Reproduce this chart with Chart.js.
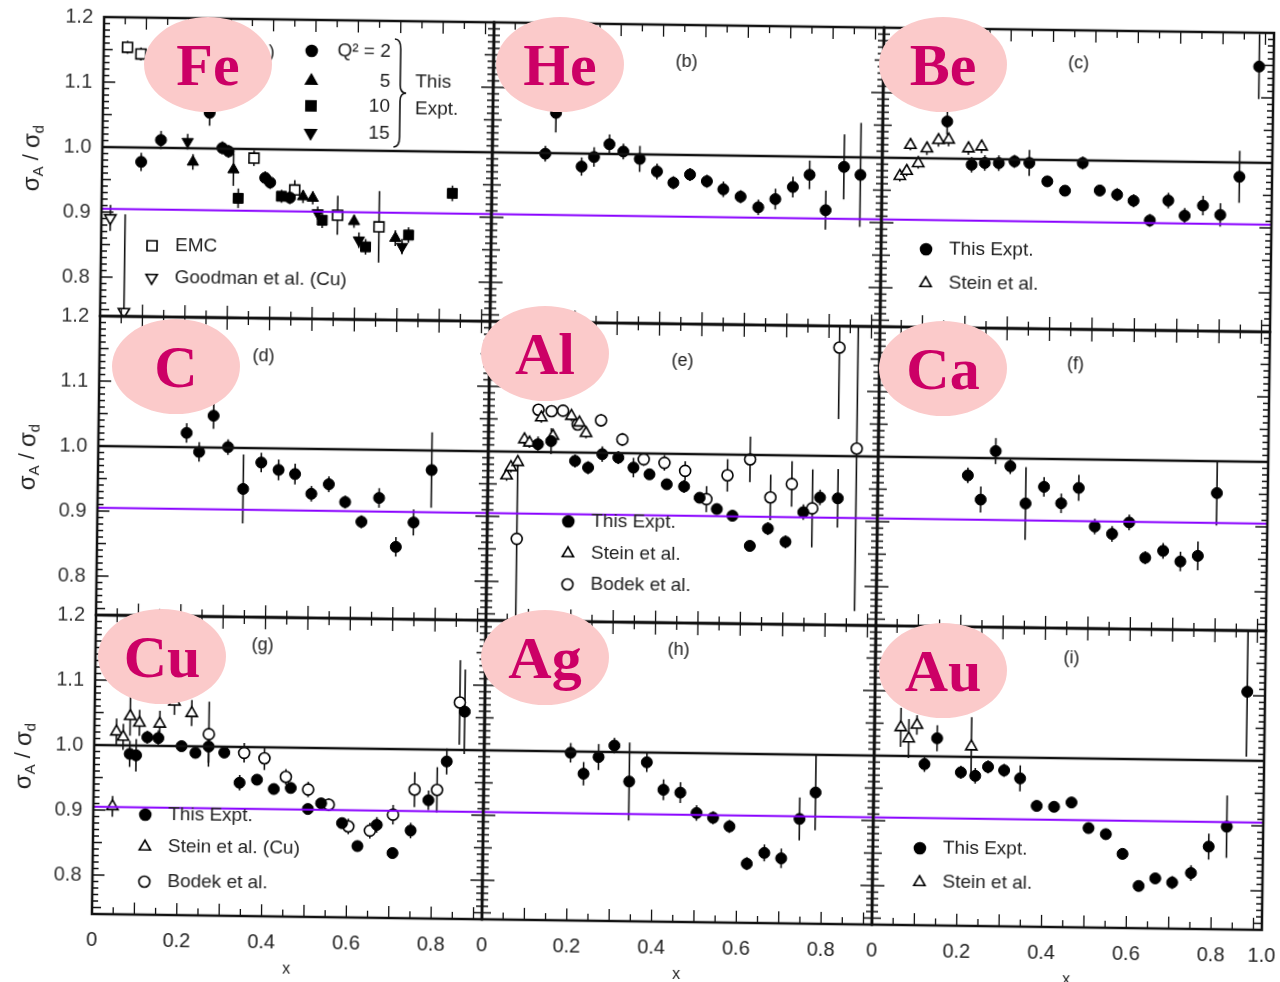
<!DOCTYPE html>
<html>
<head>
<meta charset="utf-8">
<title>EMC ratio sigma_A / sigma_d</title>
<script src="https://cdn.jsdelivr.net/npm/chart.js@4.4.0/dist/chart.umd.min.js"></script>
<style>
  html, body { margin: 0; padding: 0; background: #fff; }
  #page { position: relative; width: 1280px; height: 982px; overflow: hidden; }
  #fig { position: absolute; left: 0; top: 0; width: 1280px; height: 982px;
         transform: rotate(0.78deg); transform-origin: 685px 473px; }
  #fig canvas { position: absolute; }
  .tag { position: absolute; width: 128px; height: 95px; border-radius: 50%;
         background: #fbcaca; color: #cc0066; font: bold 60px 'Liberation Serif', 'Times New Roman', serif;
         display: flex; align-items: center; justify-content: center; line-height: 1; }
</style>
</head>
<body>
<div id="page">
  <div id="fig"></div>
  <div id="tags"></div>
</div>
<script>
/* ── data: [x, sigmaA/sigmaD, error] ───────────── */
var X_MAX = 0.92, Y_MIN = 0.74, Y_MAX = 1.2, PURPLE_Y = 0.905;
var yTicks = [0.8, 0.9, 1.0, 1.1, 1.2];
var yTickText = ['0.8', '0.9', '1.0', '1.1', '1.2'];
var xTicks = [0, 0.2, 0.4, 0.6, 0.8];
var xTickText = ['0', '0.2', '0.4', '0.6', '0.8'];
var xTicksRight = [0, 0.2, 0.4, 0.6, 0.8, 0.92];
var xTickTextRight = ['0', '0.2', '0.4', '0.6', '0.8', '1.0'];

// (a) Fe
var feQ2 = [[0.092,0.978,0.014],[0.138,1.012,0.014],[0.252,1.055,0.02],[0.283,1.001,0.01],[0.298,0.996,0.01],[0.385,0.956,0.01],[0.397,0.949,0.01],[0.444,0.926,0.01]];
var feQ5 = [[0.214,0.979,0.012],[0.31,0.968,0.025],[0.475,0.928,0.01],[0.498,0.926,0.01],[0.596,0.891,0.01],[0.694,0.866,0.012]];
var feQ10 = [[0.322,0.924,0.015],[0.424,0.928,0.01],[0.521,0.892,0.012],[0.624,0.852,0.012],[0.725,0.871,0.012],[0.827,0.936,0.012]];
var feQ15 = [[0.201,1.010,0.012],[0.51,0.903,0.01],[0.608,0.862,0.012],[0.71,0.853,0.012]];
var feEMC = [[0.056,1.154,0.01],[0.088,1.144,0.01],[0.358,0.986,0.012],[0.455,0.938,0.015],[0.557,0.900,0.03],[0.655,0.883,0.055]];
var feGoodman = [[0.021,0.891,0.02],[0.056,0.747,0.15]];
// (b) He
var heThis = [[0.125,0.999,0.012],[0.149,1.062,0.03],[0.211,0.980,0.014],[0.24,0.995,0.015],[0.276,1.015,0.015],[0.309,1.004,0.012],[0.348,0.993,0.02],[0.389,0.974,0.012],[0.428,0.957,0.01],[0.467,0.970,0.01],[0.507,0.960,0.01],[0.546,0.948,0.012],[0.587,0.937,0.01],[0.629,0.921,0.012],[0.669,0.934,0.016],[0.71,0.953,0.016],[0.749,0.972,0.022],[0.788,0.918,0.03],[0.83,0.985,0.05],[0.869,0.973,0.08]];
// (c) Be
var beThis = [[0.152,1.057,0.02],[0.211,0.991,0.012],[0.242,0.994,0.012],[0.275,0.994,0.012],[0.312,0.997,0.01],[0.347,0.995,0.02],[0.39,0.967,0.008],[0.432,0.953,0.008],[0.473,0.996,0.01],[0.514,0.954,0.008],[0.555,0.948,0.01],[0.594,0.939,0.01],[0.633,0.909,0.01],[0.676,0.940,0.012],[0.715,0.917,0.012],[0.758,0.933,0.015],[0.799,0.919,0.018],[0.843,0.978,0.04],[0.886,1.148,0.05]];
var beStein = [[0.042,0.972,0.008],[0.058,0.98,0.008],[0.066,1.02,0.008],[0.085,0.992,0.008],[0.105,1.015,0.01],[0.132,1.028,0.01],[0.156,1.029,0.01],[0.203,1.016,0.01],[0.234,1.019,0.01]];
// (d) C
var cThis = [[0.208,1.022,0.015],[0.238,0.993,0.015],[0.271,1.049,0.02],[0.306,1.001,0.012],[0.343,0.937,0.053],[0.385,0.978,0.015],[0.426,0.967,0.016],[0.465,0.961,0.016],[0.504,0.931,0.012],[0.545,0.946,0.012],[0.584,0.919,0.01],[0.623,0.889,0.01],[0.664,0.926,0.015],[0.705,0.851,0.015],[0.746,0.889,0.02],[0.787,0.970,0.058]];
// (e) Al
var alThis = [[0.117,1.012,0.012],[0.148,1.017,0.02],[0.205,0.987,0.01],[0.236,0.977,0.01],[0.269,0.998,0.012],[0.307,0.993,0.01],[0.343,0.978,0.015],[0.381,0.968,0.008],[0.422,0.953,0.008],[0.463,0.950,0.01],[0.5,0.933,0.008],[0.541,0.916,0.008],[0.578,0.906,0.008],[0.62,0.860,0.008],[0.662,0.887,0.01],[0.704,0.867,0.01],[0.745,0.913,0.012],[0.784,0.936,0.012],[0.826,0.935,0.045]];
var alStein = [[0.044,0.963,0.008],[0.054,0.976,0.008],[0.07,0.984,0.008],[0.085,1.019,0.008],[0.097,1.014,0.008],[0.124,1.053,0.008],[0.152,1.025,0.008],[0.195,1.056,0.008],[0.214,1.046,0.008],[0.23,1.03,0.008]];
var alBodek = [[0.07,0.866,0.125],[0.117,1.065,0.008],[0.148,1.063,0.008],[0.175,1.064,0.008],[0.21,1.043,0.008],[0.265,1.05,0.01],[0.316,1.021,0.01],[0.367,0.991,0.01],[0.416,0.986,0.012],[0.465,0.974,0.015],[0.516,0.931,0.02],[0.565,0.968,0.025],[0.618,0.993,0.035],[0.667,0.935,0.035],[0.717,0.956,0.035],[0.766,0.919,0.06],[0.825,1.167,0.11],[0.869,1.012,0.25]];
// (f) Ca
var caThis = [[0.212,0.973,0.012],[0.243,0.936,0.02],[0.277,1.011,0.02],[0.312,0.988,0.012],[0.349,0.931,0.056],[0.392,0.957,0.015],[0.433,0.932,0.015],[0.474,0.956,0.02],[0.513,0.897,0.012],[0.554,0.886,0.012],[0.594,0.904,0.012],[0.633,0.85,0.01],[0.675,0.861,0.012],[0.716,0.845,0.015],[0.757,0.854,0.022],[0.8,0.951,0.05]];
// (g) Cu
var cuThis = [[0.084,0.987,0.02],[0.099,0.985,0.025],[0.125,1.013,0.01],[0.151,1.012,0.012],[0.206,1.0,0.008],[0.239,0.99,0.008],[0.27,1.0,0.025],[0.307,0.991,0.008],[0.344,0.945,0.012],[0.385,0.95,0.008],[0.425,0.936,0.008],[0.465,0.938,0.008],[0.506,0.906,0.008],[0.537,0.915,0.008],[0.587,0.885,0.008],[0.624,0.85,0.008],[0.669,0.883,0.012],[0.707,0.84,0.008],[0.749,0.875,0.012],[0.79,0.922,0.015],[0.832,0.982,0.02],[0.873,1.059,0.065]];
var cuStein = [[0.045,0.906,0.016],[0.052,1.021,0.02],[0.068,1.013,0.02],[0.084,1.045,0.03],[0.106,1.035,0.02],[0.154,1.034,0.02],[0.188,1.068,0.02],[0.229,1.051,0.02]];
var cuBodek = [[0.27,1.019,0.05],[0.354,0.991,0.015],[0.402,0.983,0.018],[0.453,0.955,0.012],[0.506,0.936,0.012],[0.555,0.913,0.01],[0.602,0.880,0.012],[0.653,0.874,0.012],[0.707,0.899,0.015],[0.757,0.938,0.027],[0.81,0.938,0.035],[0.861,1.073,0.065]];
// (h) Ag
var agThis = [[0.204,0.998,0.015],[0.235,0.966,0.018],[0.27,0.992,0.02],[0.307,1.01,0.012],[0.343,0.955,0.06],[0.384,0.985,0.015],[0.424,0.943,0.016],[0.464,0.939,0.016],[0.503,0.908,0.012],[0.542,0.901,0.01],[0.581,0.888,0.01],[0.623,0.831,0.01],[0.664,0.848,0.013],[0.704,0.84,0.015],[0.746,0.901,0.033],[0.783,0.942,0.058]];
// (i) Au
var auThis = [[0.119,0.988,0.012],[0.148,1.028,0.02],[0.205,0.976,0.01],[0.239,0.971,0.012],[0.269,0.985,0.01],[0.307,0.98,0.01],[0.345,0.968,0.02],[0.385,0.926,0.008],[0.426,0.925,0.008],[0.467,0.932,0.008],[0.508,0.893,0.008],[0.549,0.884,0.008],[0.589,0.854,0.008],[0.628,0.805,0.008],[0.667,0.817,0.008],[0.707,0.811,0.01],[0.751,0.826,0.012],[0.792,0.867,0.02],[0.834,0.898,0.048],[0.878,1.106,0.1]];
var auStein = [[0.062,1.044,0.03],[0.081,1.027,0.03],[0.1,1.048,0.015],[0.229,1.016,0.045]];

(function () {
  'use strict';

  Chart.defaults.font.family = "'Liberation Sans', Arial, sans-serif";
  Chart.defaults.color = '#222';

  var COL_LEFT = [98, 488, 878], ROW_TOP = [25, 324, 623];
  var PW = 390, PH = 299;
  var AX_W = 90, AX_H = 66, PAD_T = 32, PAD_R = 40;

  var panels = [
    { name: 'Fe', tag: '(a)', col: 0, row: 0, tagPos: [160, 33], ell: [208, 64],
      series: [[feQ2, 'circle'], [feQ5, 'triangle'], [feQ10, 'rect'], [feQ15, 'triangleDown'],
               [feEMC, 'rect', true], [feGoodman, 'triangleDown', true]],
      legend: [['rect', true, 'EMC', 51, 228], ['triangleDown', true, 'Goodman et al. (Cu)', 51, 260]],
      q2Key: true },
    { name: 'He', tag: '(b)', col: 1, row: 0, tagPos: [193, 37], ell: [560, 64],
      series: [[heThis, 'circle']], legend: [] },
    { name: 'Be', tag: '(c)', col: 2, row: 0, tagPos: [195, 33], ell: [943, 64],
      series: [[beThis, 'circle'], [beStein, 'triangle', true]],
      legend: [['circle', false, 'This Expt.', 45, 221], ['triangle', true, 'Stein et al.', 45, 255]] },
    { name: 'C', tag: '(d)', col: 0, row: 1, tagPos: [164, 38], ell: [176, 366],
      series: [[cThis, 'circle']], legend: [] },
    { name: 'Al', tag: '(e)', col: 1, row: 1, tagPos: [193, 37], ell: [545, 353],
      series: [[alThis, 'circle'], [alStein, 'triangle', true], [alBodek, 'circle', true]],
      legend: [['circle', false, 'This Expt.', 81, 199], ['triangle', true, 'Stein et al.', 81, 231],
               ['circle', true, 'Bodek et al.', 81, 262]] },
    { name: 'Ca', tag: '(f)', col: 2, row: 1, tagPos: [196, 35], ell: [943, 368],
      series: [[caThis, 'circle']], legend: [] },
    { name: 'Cu', tag: '(g)', col: 0, row: 2, tagPos: [167, 28], ell: [162, 656],
      series: [[cuThis, 'circle'], [cuStein, 'triangle', true], [cuBodek, 'circle', true]],
      legend: [['circle', false, 'This Expt.', 52, 199], ['triangle', true, 'Stein et al. (Cu)', 52, 231],
               ['circle', true, 'Bodek et al.', 52, 266]] },
    { name: 'Ag', tag: '(h)', col: 1, row: 2, tagPos: [193, 27], ell: [545, 657],
      series: [[agThis, 'circle']], legend: [] },
    { name: 'Au', tag: '(i)', col: 2, row: 2, tagPos: [196, 30], ell: [943, 670],
      series: [[auThis, 'circle'], [auStein, 'triangle', true]],
      legend: [['circle', false, 'This Expt.', 47, 222], ['triangle', true, 'Stein et al.', 47, 256]] }
  ];

  function drawMarker(ctx, style, open, x, y) {
    ctx.save();
    ctx.beginPath();
    if (style === 'circle') {
      ctx.arc(x, y, 5.5, 0, Math.PI * 2);
    } else if (style === 'rect') {
      ctx.rect(x - 5, y - 5, 10, 10);
    } else {
      var s = style === 'triangle' ? 1 : -1, r = 6.5;
      ctx.moveTo(x, y - s * r);
      ctx.lineTo(x + r * 0.866, y + s * r * 0.5);
      ctx.lineTo(x - r * 0.866, y + s * r * 0.5);
      ctx.closePath();
    }
    ctx.fillStyle = open ? '#fff' : '#000';
    ctx.fill();
    ctx.lineWidth = 1.6;
    ctx.strokeStyle = '#000';
    ctx.stroke();
    ctx.restore();
  }

  function drawBrace(ctx, x, y0, y1) {
    var ym = (y0 + y1) / 2, w = 6;
    ctx.beginPath();
    ctx.moveTo(x, y0);
    ctx.quadraticCurveTo(x + w, y0, x + w, y0 + 10);
    ctx.lineTo(x + w, ym - 8);
    ctx.quadraticCurveTo(x + w, ym, x + 2 * w, ym);
    ctx.quadraticCurveTo(x + w, ym, x + w, ym + 8);
    ctx.lineTo(x + w, y1 - 10);
    ctx.quadraticCurveTo(x + w, y1, x, y1);
    ctx.stroke();
  }

  function drawYTitle(ctx, x, y) {
    var parts = [['σ', 24, 0], ['A', 15, 7], [' / ', 22, 0], ['σ', 24, 0], ['d', 15, 7]];
    var font = "'Liberation Sans', Arial, sans-serif", total = 0;
    ctx.save();
    parts.forEach(function (p) { ctx.font = p[1] + 'px ' + font; total += ctx.measureText(p[0]).width; });
    ctx.translate(x, y);
    ctx.rotate(-Math.PI / 2);
    ctx.fillStyle = '#222';
    ctx.textBaseline = 'middle';
    var cx = -total / 2;
    parts.forEach(function (p) {
      ctx.font = p[1] + 'px ' + font;
      ctx.fillText(p[0], cx, p[2]);
      cx += ctx.measureText(p[0]).width;
    });
    ctx.restore();
  }

  /* error bars underneath the markers */
  var errorBars = {
    id: 'errorBars',
    beforeDatasetsDraw: function (chart) {
      var ctx = chart.ctx, xs = chart.scales.x, ys = chart.scales.y, a = chart.chartArea;
      ctx.save();
      ctx.beginPath();
      ctx.rect(a.left, a.top, a.right - a.left, a.bottom - a.top);
      ctx.clip();
      ctx.strokeStyle = '#111';
      ctx.lineWidth = 1.6;
      chart.data.datasets.forEach(function (ds) {
        if (!ds.errors) return;
        ds.data.forEach(function (p, i) {
          var e = ds.errors[i];
          if (!e) return;
          var px = xs.getPixelForValue(p.x);
          ctx.beginPath();
          ctx.moveTo(px, ys.getPixelForValue(p.y - e));
          ctx.lineTo(px, ys.getPixelForValue(p.y + e));
          ctx.stroke();
        });
      });
      ctx.restore();
    }
  };

  /* frame, inner ticks, panel letters, in-panel keys */
  var panelDeco = {
    id: 'panelDeco',
    afterDatasetsDraw: function (chart) {
      var p = chart.options.plugins.panelDeco.panel;
      var ctx = chart.ctx, a = chart.chartArea, xs = chart.scales.x, ys = chart.scales.y;
      var k, py, px, len;
      ctx.save();
      ctx.strokeStyle = '#111';
      ctx.lineWidth = 1.3;
      for (k = 75; k <= 119; k++) {
        py = ys.getPixelForValue(k / 100);
        len = k % 10 === 0 ? 12 : (k % 5 === 0 ? 9 : 6);
        ctx.beginPath();
        ctx.moveTo(a.left, py); ctx.lineTo(a.left + len, py);
        ctx.moveTo(a.right, py); ctx.lineTo(a.right - len, py);
        ctx.stroke();
      }
      for (k = 1; k * 0.05 < X_MAX; k++) {
        px = xs.getPixelForValue(k * 0.05);
        len = k % 2 === 0 ? 12 : 7;
        ctx.beginPath();
        ctx.moveTo(px, a.top); ctx.lineTo(px, a.top + len);
        ctx.moveTo(px, a.bottom); ctx.lineTo(px, a.bottom - len);
        ctx.stroke();
      }
      ctx.lineWidth = 2.5;
      ctx.strokeRect(a.left, a.top, a.right - a.left, a.bottom - a.top);

      ctx.fillStyle = '#222';
      ctx.font = "18px 'Liberation Sans', Arial, sans-serif";
      ctx.textAlign = 'center';
      ctx.textBaseline = 'middle';
      ctx.fillText(p.tag, a.left + p.tagPos[0], a.top + p.tagPos[1]);

      ctx.font = "19px 'Liberation Sans', Arial, sans-serif";
      ctx.textAlign = 'left';
      p.legend.forEach(function (it) {
        drawMarker(ctx, it[0], it[1], a.left + it[3], a.top + it[4]);
        ctx.fillStyle = '#222';
        ctx.fillText(it[2], a.left + it[3] + 23, a.top + it[4]);
      });

      if (p.q2Key) {
        var keys = [['circle', 'Q² = 2', 31], ['triangle', '5', 61], ['rect', '10', 86], ['triangleDown', '15', 113]];
        keys.forEach(function (q) {
          drawMarker(ctx, q[0], false, a.left + 208, a.top + q[2]);
          ctx.fillStyle = '#222';
          ctx.textAlign = 'right';
          ctx.fillText(q[1], a.left + 287, a.top + q[2]);
        });
        ctx.lineWidth = 1.6;
        drawBrace(ctx, a.left + 291, a.top + 18, a.top + 126);
        ctx.textAlign = 'left';
        ctx.fillText('This', a.left + 312, a.top + 61);
        ctx.fillText('Expt.', a.left + 312, a.top + 88);
      }

      if (p.col === 0) drawYTitle(ctx, a.left - 70, a.top + 142);
      ctx.restore();
    }
  };

  var fig = document.getElementById('fig');
  var tags = document.getElementById('tags');

  panels.forEach(function (p) {
    var cv = document.createElement('canvas');
    cv.width = AX_W + PW + PAD_R;
    cv.height = PAD_T + PH + AX_H;
    cv.style.width = cv.width + 'px';
    cv.style.height = cv.height + 'px';
    fig.appendChild(cv);

    var xt = p.col === 2 ? xTicksRight : xTicks;
    var xl = p.col === 2 ? xTickTextRight : xTickText;

    var datasets = [
      { data: [{ x: 0, y: PURPLE_Y }, { x: X_MAX, y: PURPLE_Y }], showLine: true,
        borderColor: '#8800ff', borderWidth: 2.2, pointRadius: 0 },
      { data: [{ x: 0, y: 1 }, { x: X_MAX, y: 1 }], showLine: true,
        borderColor: '#111', borderWidth: 2.5, pointRadius: 0 }
    ];
    p.series.forEach(function (s) {
      var arr = s[0], style = s[1], open = !!s[2];
      datasets.push({
        data: arr.map(function (q) { return { x: q[0], y: q[1] }; }),
        errors: arr.map(function (q) { return q[2]; }),
        showLine: false,
        pointStyle: style === 'triangleDown' ? 'triangle' : style,
        rotation: style === 'triangleDown' ? 180 : 0,
        pointRadius: style === 'circle' ? 5.5 : (style === 'rect' ? 7 : 6.5),
        pointBackgroundColor: open ? '#fff' : '#000',
        pointBorderColor: '#000',
        pointBorderWidth: open ? 1.6 : 1
      });
    });

    var chart = new Chart(cv, {
      type: 'scatter',
      data: { datasets: datasets },
      plugins: [errorBars, panelDeco],
      options: {
        responsive: false,
        animation: false,
        devicePixelRatio: 1,
        layout: { padding: { top: PAD_T, right: PAD_R, left: 0, bottom: 0 } },
        plugins: {
          legend: { display: false },
          tooltip: { enabled: false },
          panelDeco: { panel: p }
        },
        scales: {
          x: {
            type: 'linear', min: 0, max: X_MAX,
            grid: { display: false, drawTicks: false },
            border: { display: false },
            afterFit: function (s) { s.height = AX_H; },
            afterBuildTicks: function (s) { s.ticks = xt.map(function (v) { return { value: v }; }); },
            ticks: {
              display: p.row === 2, padding: 14, autoSkip: false, maxRotation: 0,
              font: { size: 20 }, color: '#222',
              callback: function (v) { var i = xt.indexOf(v); return i < 0 ? '' : xl[i]; }
            },
            title: { display: p.row === 2, text: 'x', font: { size: 16 }, color: '#222', padding: { top: 0, bottom: 4 } }
          },
          y: {
            type: 'linear', min: Y_MIN, max: Y_MAX,
            grid: { display: false, drawTicks: false },
            border: { display: false },
            afterFit: function (s) { s.width = AX_W; },
            afterBuildTicks: function (s) { s.ticks = yTicks.map(function (v) { return { value: v }; }); },
            ticks: {
              display: p.col === 0, padding: 11, font: { size: 20 }, color: '#333',
              callback: function (v) { var i = yTicks.indexOf(v); return i < 0 ? '' : yTickText[i]; }
            }
          }
        }
      }
    });

    // place the canvas so its plot area sits on the panel grid
    var ca = chart.chartArea;
    cv.style.left = (COL_LEFT[p.col] - ca.left) + 'px';
    cv.style.top = (ROW_TOP[p.row] - ca.top) + 'px';

    var t = document.createElement('div');
    t.className = 'tag';
    t.textContent = p.name;
    t.style.left = (p.ell[0] - 64) + 'px';
    t.style.top = (p.ell[1] - 47) + 'px';
    tags.appendChild(t);
  });
}());
</script>
</body>
</html>
